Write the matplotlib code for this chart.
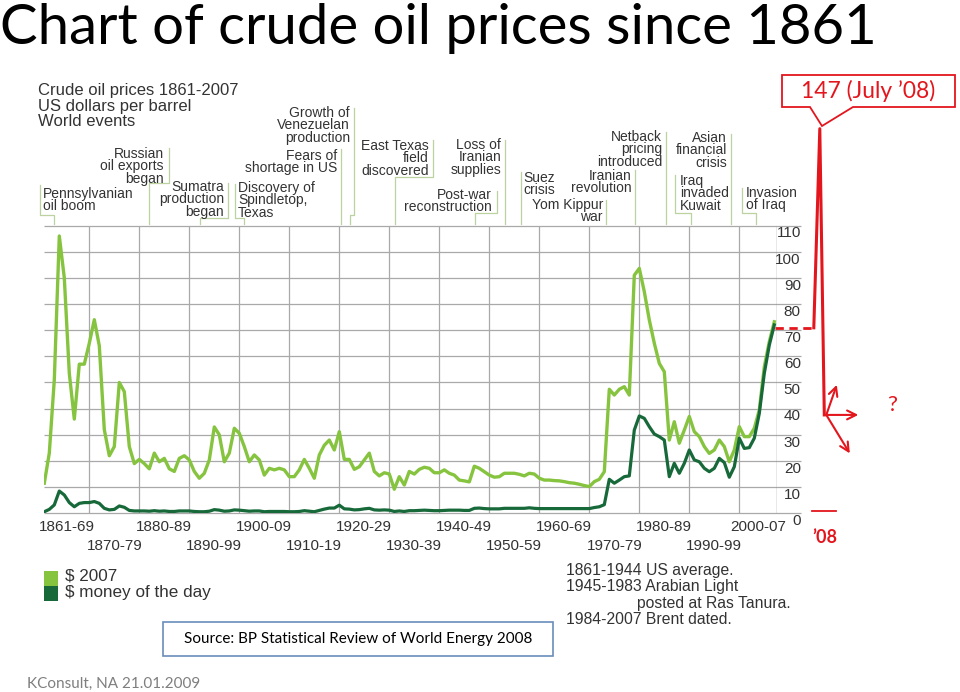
import numpy as np
import matplotlib
matplotlib.use('Agg')
import matplotlib.pyplot as plt
from matplotlib.patches import Rectangle, Polygon

plt.rcParams['font.family'] = ['Liberation Sans', 'DejaVu Sans']

W, H = 960, 692

# crude oil prices, US dollars per barrel
years = np.arange(1861, 2008)
price_2007 = [
    11.5, 23, 51, 106, 90, 53.5, 36, 57, 57,                      # 1861-69
    65, 74, 64, 32, 22, 25.5, 50, 46.5, 25.5, 19,                 # 1870s
    20.6, 19, 17, 23, 19.7, 21, 17, 16, 21, 22,                   # 1880s
    20.4, 16, 13.4, 15.3, 20.4, 33, 30, 19.7, 23, 32.5,           # 1890s
    30.6, 25.5, 19.7, 22.3, 20.4, 14.6, 17.2, 16.6, 17.2, 16.6,   # 1900s
    14, 14, 16.6, 20.6, 17.2, 13.4, 22.3, 26, 28, 24.2,           # 1910s
    31.2, 20.6, 20.6, 16.8, 17.8, 20.4, 23, 16, 14.3, 15.5,       # 1920s
    15, 9.2, 14, 10.8, 16, 15, 16.8, 17.6, 17.2, 15.5,            # 1930s
    15.5, 16.6, 15.3, 14.6, 12.7, 12.4, 12, 18, 17.2, 15.9,       # 1940s
    14.6, 13.8, 14, 15.3, 15.3, 15.3, 14.9, 14.3, 15.3, 15,       # 1950s
    13.4, 12.7, 12.7, 12.5, 12.4, 12.1, 11.7, 11.5, 11.1, 10.6,   # 1960s
    10.2, 12.1, 13, 15.9, 47.4, 45.2, 47.4, 48.4, 45.2, 91,       # 1970s
    93.6, 84.7, 73.9, 65, 57.3, 54.1, 28, 35, 26.8, 31.8,         # 1980s
    37, 31.2, 29.3, 25.5, 22.9, 24.2, 28, 25.5, 19.7, 24.2,       # 1990s
    33.1, 29.3, 29.3, 32.5, 39.5, 56, 65.6, 73.2,                 # 2000-07
]
price_mod = [
    0.6, 1.5, 3.2, 8.5, 7, 4.1, 2.5, 3.8, 4.1,
    4.1, 4.5, 3.8, 1.9, 1.3, 1.5, 2.8, 2.3, 1.1, 0.9,
    0.9, 0.9, 0.8, 1.0, 0.8, 0.9, 0.7, 0.7, 0.9, 0.9,
    0.9, 0.7, 0.6, 0.6, 0.8, 1.4, 1.2, 0.8, 0.9, 1.3,
    1.2, 1.0, 0.8, 0.9, 0.9, 0.6, 0.7, 0.7, 0.7, 0.7,
    0.6, 0.6, 0.7, 1.0, 0.8, 0.6, 1.1, 1.6, 2.0, 2.0,
    3.1, 1.7, 1.6, 1.3, 1.4, 1.7, 1.9, 1.3, 1.2, 1.3,
    1.2, 0.7, 0.9, 0.7, 1.0, 1.0, 1.1, 1.2, 1.1, 1.0,
    1.0, 1.1, 1.2, 1.2, 1.2, 1.1, 1.1, 1.9, 2.0, 1.8,
    1.7, 1.7, 1.7, 1.9, 1.9, 1.9, 1.9, 1.9, 2.1, 1.9,
    1.8, 1.8, 1.8, 1.8, 1.8, 1.8, 1.8, 1.8, 1.8, 1.8,
    1.8, 2.2, 2.5, 3.3, 13, 11.5, 12.7, 14, 14.3, 31.8,
    37.2, 36.3, 33.1, 30.3, 29.3, 28, 14, 19.1, 15.3, 19.1,
    24.2, 20.4, 19.7, 17.2, 15.9, 17.2, 21, 19.4, 13.8, 17.8,
    28.7, 24.8, 25.1, 28.7, 38.2, 53.5, 64.3, 72,
]

xtick_labels = ['1861-69', '1870-79', '1880-89', '1890-99', '1900-09', '1910-19', '1920-29',
                '1930-39', '1940-49', '1950-59', '1960-69', '1970-79', '1980-89', '1990-99', '2000-07']
xtick_starts = [1861, 1870, 1880, 1890, 1900, 1910, 1920, 1930, 1940, 1950, 1960, 1970, 1980, 1990, 2000]
ytick_values = list(range(0, 111, 10))

# hand-drawn 2008 sketch in red
dash_years = [2007.1, 2014.9]
dash_prices = [70.9, 70.9]
spike_years = [2014.9, 2016.1, 2017.0]
spike_prices = [70.9, 147, 37.6]
arrow_start = (2017.4, 37.6)
arrow_ends = [(2019.5, 49.1), (2023.8, 37.6), (2022.1, 22.9)]

# world events: text, x, y of first line, alignment, leader line (pixel layout)
events = [
    ('Pennsylvanian\noil boom', 43, 194, 'left', [(40, 185), (40, 215), (54, 215), (54, 224)]),
    ('Russian\noil exports\nbegan', 164, 154, 'right', [(169, 148), (169, 183), (149, 183), (149, 224)]),
    ('Sumatra\nproduction\nbegan', 224, 187, 'right', [(228, 183), (228, 218), (200, 218), (200, 224)]),
    ('Discovery of\nSpindletop,\nTexas', 238, 188, 'left', [(235, 184), (235, 218), (244, 218), (244, 224)]),
    ('Fears of\nshortage in US', 337, 156, 'right', [(341, 149), (341, 224)]),
    ('Growth of\nVenezuelan\nproduction', 350, 113, 'right', [(354, 108), (354, 215), (350, 215), (350, 224)]),
    ('East Texas\nfield\ndiscovered', 429, 146, 'right', [(433, 140), (433, 177), (395, 177), (395, 224)]),
    ('Loss of\nIranian\nsupplies', 501, 145, 'right', [(505, 140), (505, 224)]),
    ('Post-war\nreconstruction', 492, 195, 'right', [(497, 191), (497, 213), (475, 213), (475, 224)]),
    ('Suez\ncrisis', 523, 178, 'left', [(521, 172), (521, 224)]),
    ('Yom Kippur\nwar', 603, 205, 'right', [(606, 200), (606, 224)]),
    ('Iranian\nrevolution', 632, 176, 'right', [(635, 170), (635, 224)]),
    ('Netback\npricing\nintroduced', 662, 137, 'right', [(666, 132), (666, 224)]),
    ('Iraq\ninvaded\nKuwait', 680, 181, 'left', [(675, 175), (675, 213), (691, 213), (691, 224)]),
    ('Asian\nfinancial\ncrisis', 727, 138, 'right', [(731, 134), (731, 224)]),
    ('Invasion\nof Iraq', 746, 193, 'left', [(742, 188), (742, 213), (756, 213), (756, 224)]),
]

light = '#86c440'
dark = '#17693a'
red = '#e3161d'
grid = '#a9a9a9'
txt = '#333333'

fig = plt.figure(figsize=(W / 100, H / 100), dpi=100, facecolor='w')

# overlay axes in pixel coordinates for the slide decoration
ov = fig.add_axes([0, 0, 1, 1])
ov.set_xlim(0, W)
ov.set_ylim(H, 0)
ov.axis('off')


def lines_at(x, y1, s, ha, size, step, **kw):
    for i, line in enumerate(s.split('\n')):
        ov.text(x, y1 + i * step, line, ha=ha, va='center', fontsize=size, **kw)


# main plot area
left, right, top, bottom = 44.3, 777.0, 225.5, 513.3
ax = fig.add_axes([left / W, 1 - bottom / H, (right - left) / W, (bottom - top) / H])
ax.set_xlim(1861, 2007.54)
ax.set_ylim(0, 110)
ax.axis('off')

x_end = 2012.3
ax.vlines(np.arange(1870, 2001, 10), 0, 110, color=grid, lw=0.9)
ax.hlines(ytick_values, 1861, x_end, color=grid, lw=0.9, clip_on=False)
ax.vlines(2007.54, 0, 110, color='#8c8c8c', lw=1.0)

ax.plot(years, price_2007, color=light, lw=2.4, solid_joinstyle='round', zorder=3)
ax.plot(years, price_mod, color=dark, lw=2.3, solid_joinstyle='round', zorder=4)

for v in ytick_values:
    ax.text(x_end, v - 3.0, str(v), ha='right', va='center', fontsize=11, color=txt, clip_on=False)

for i, (lab, st) in enumerate(zip(xtick_labels, xtick_starts)):
    end = min(st + 10 - st % 10 if st % 10 else st + 10, 2007.54)
    yv = -5.4 if i % 2 == 0 else -12.6
    ax.text((st + end) / 2, yv, lab, ha='center', va='center', fontsize=11, color=txt, clip_on=False)

# red 2008 sketch
ax.plot(dash_years, dash_prices, color=red, lw=2.0, dashes=(3, 2), clip_on=False)
ax.plot(spike_years, spike_prices, color=red, lw=2.2, clip_on=False)
for end in arrow_ends:
    ax.annotate('', xy=end, xytext=arrow_start, annotation_clip=False,
                arrowprops=dict(arrowstyle='->', color=red, lw=1.5, mutation_scale=16,
                                shrinkA=0, shrinkB=0))
ax.plot([2014.5, 2019.3], [1.0, 1.0], color=red, lw=1.3, clip_on=False)

# slide title
ov.text(0, 43.5, 'Chart of crude oil prices since 1861', fontsize=40.5, family=['Lato', 'DejaVu Sans'],
        ha='left', va='baseline', color='black')

# chart heading
lines_at(38, 90.7, 'Crude oil prices 1861-2007\nUS dollars per barrel\nWorld events', 'left', 12, 15.5, color=txt)

for s, x, y1, ha, pts in events:
    lines_at(x, y1, s, ha, 10, 12.4, color=txt)
    px, py = zip(*pts)
    ov.plot(px, py, color='#bcd3a0', lw=0.9)

# legend
ov.add_patch(Rectangle((44, 571), 14, 15, color=light, lw=0))
ov.add_patch(Rectangle((44, 586), 14, 15, color=dark, lw=0))
ov.text(65, 576.5, '$ 2007', ha='left', va='center', fontsize=12.3, color=txt)
ov.text(65, 592.5, '$ money of the day', ha='left', va='center', fontsize=12.3, color=txt)

# price series notes
narrow = ['Liberation Sans Narrow', 'Liberation Sans']
ov.text(566, 570.3, '1861-1944 US average.', fontsize=11.3, family=narrow, va='center', color=txt)
ov.text(566, 587, '1945-1983 Arabian Light', fontsize=11.3, family=narrow, va='center', color=txt)
ov.text(637, 603.5, 'posted at Ras Tanura.', fontsize=11.3, family=narrow, va='center', color=txt)
ov.text(566, 619.7, '1984-2007 Brent dated.', fontsize=11.3, family=narrow, va='center', color=txt)

# source box and footer
ov.add_patch(Rectangle((163, 622), 390, 34, fill=False, edgecolor='#6a8cba', lw=1.2))
ov.text(358, 639, 'Source: BP Statistical Review of World Energy 2008', ha='center', va='center',
        fontsize=11, family=['Lato', 'DejaVu Sans'], color='black')
ov.text(27, 684, 'KConsult, NA 21.01.2009', ha='left', va='center', fontsize=11,
        family=['Lato', 'DejaVu Sans'], color='#7f7f7f')

# red callout
ov.add_patch(Polygon([(782, 75), (955, 75), (955, 107), (853, 107), (822, 126), (810, 107), (782, 107)],
                     closed=True, facecolor='white', edgecolor=red, lw=1.3))
ov.text(868, 91, '147 (July \u201908)', ha='center', va='center', fontsize=16.5,
        family=['Lato', 'DejaVu Sans'], color=red)
ov.text(825, 537.5, '\u201908', ha='center', va='center', fontsize=13, fontweight='bold',
        family=['Lato', 'DejaVu Sans'], color=red)
ov.text(892, 405, '?', ha='center', va='center', fontsize=16, family=['Lato', 'DejaVu Sans'], color=red)

fig.savefig('out.png', dpi=100, facecolor='w')
